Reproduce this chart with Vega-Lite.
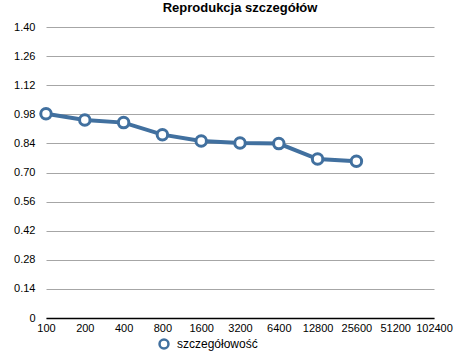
{
  "$schema": "https://vega.github.io/schema/vega-lite/v6.json",
  "width": 388,
  "height": 291,
  "autosize": "none",
  "padding": {"left": 46, "top": 27, "right": 27, "bottom": 42},
  "background": "white",
  "config": {"view": {"stroke": null}, "font": "Liberation Sans"},
  "title": {"text": "Reprodukcja szczegółów", "fontSize": 13, "font": "Liberation Sans", "fontWeight": "bold", "color": "black", "offset": 6, "anchor": "middle"},
  "data": {"values": [
    {"iso": "100", "value": 0.983, "series": "szczegółowość"},
    {"iso": "200", "value": 0.953, "series": "szczegółowość"},
    {"iso": "400", "value": 0.940, "series": "szczegółowość"},
    {"iso": "800", "value": 0.882, "series": "szczegółowość"},
    {"iso": "1600", "value": 0.852, "series": "szczegółowość"},
    {"iso": "3200", "value": 0.842, "series": "szczegółowość"},
    {"iso": "6400", "value": 0.839, "series": "szczegółowość"},
    {"iso": "12800", "value": 0.765, "series": "szczegółowość"},
    {"iso": "25600", "value": 0.754, "series": "szczegółowość"}
  ]},
  "encoding": {
    "x": {"field": "iso", "type": "ordinal", "sort": null,
      "scale": {"type": "point", "padding": 0, "domain": ["100","200","400","800","1600","3200","6400","12800","25600","51200","102400"]},
      "axis": {"title": null, "labelAngle": 0, "ticks": false, "grid": false, "domain": true, "domainColor": "black", "domainWidth": 1.5, "labelFontSize": 11, "labelColor": "black", "labelPadding": 4, "labelFont": "Liberation Sans"}},
    "y": {"field": "value", "type": "quantitative",
      "scale": {"domain": [0, 1.4], "nice": false, "zero": true},
      "axis": {"title": null, "values": [0, 0.14, 0.28, 0.42, 0.56, 0.70, 0.84, 0.98, 1.12, 1.26, 1.40],
        "labelExpr": "datum.value == 0 ? '0' : format(datum.value, '.2f')",
        "ticks": false, "domain": false, "grid": true, "gridColor": "#a6a6a6", "gridWidth": 1,
        "labelFontSize": 11, "labelColor": "black", "labelPadding": 11, "labelFont": "Liberation Sans"}},
    "color": {"field": "series", "type": "nominal", "scale": {"range": ["#41709f"]},
      "legend": {"title": null, "orient": "none", "legendX": 112, "legendY": 311, "symbolType": "circle", "symbolFillColor": "white", "symbolStrokeWidth": 2.5, "symbolSize": 80, "labelFontSize": 12, "labelColor": "black", "labelFont": "Liberation Sans", "labelOffset": 7}}
  },
  "layer": [
    {"mark": {"type": "line", "strokeWidth": 4}},
    {"mark": {"type": "point", "shape": "circle", "filled": false, "fill": "white", "fillOpacity": 1, "opacity": 1, "size": 110, "strokeWidth": 3}}
  ]
}
